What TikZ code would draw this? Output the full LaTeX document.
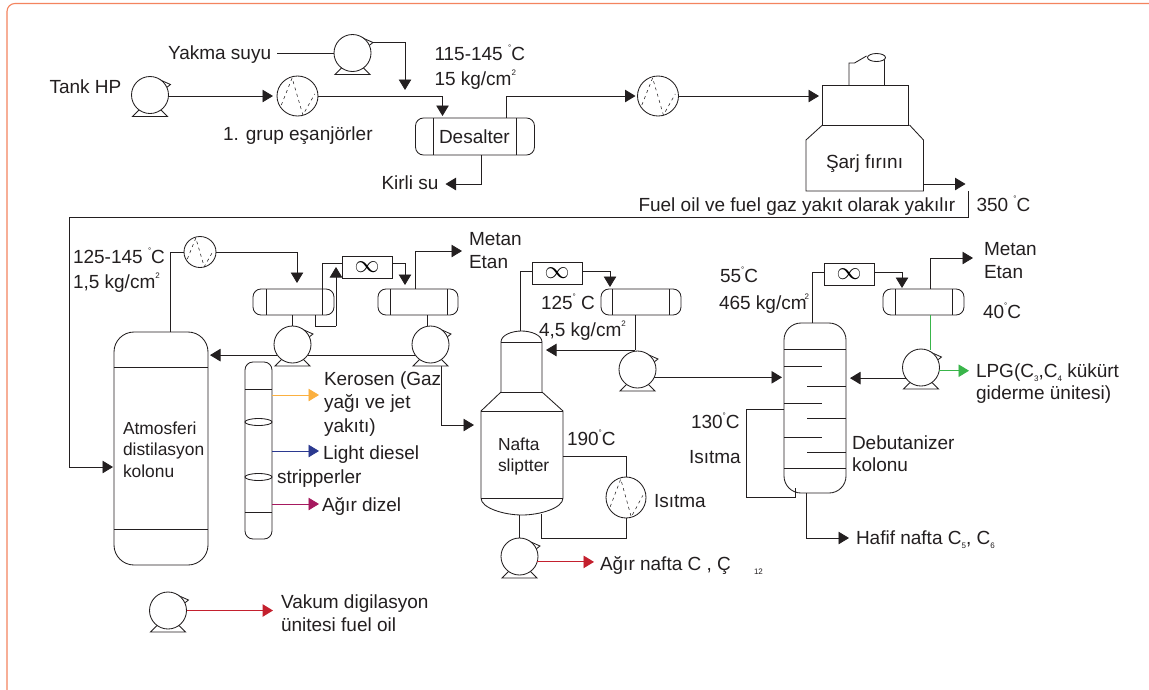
\documentclass[tikz,border=0pt]{standalone}
\usepackage{fontspec}
\setmainfont{Liberation Sans}
\usetikzlibrary{arrows.meta,shapes.geometric}
\definecolor{ln}{HTML}{231F20}
\definecolor{fr}{HTML}{F4845F}
\definecolor{cor}{HTML}{FBB040}
\definecolor{cbl}{HTML}{2B3990}
\definecolor{cmg}{HTML}{A6195F}
\definecolor{crd}{HTML}{C4202E}
\definecolor{cgr}{HTML}{39B54A}
\newcommand{\dgr}{\raisebox{0.5em}{\fontsize{8}{8}\selectfont °}}
\newcommand{\supp}[1]{\raisebox{0.5em}{\fontsize{8}{8}\selectfont #1}}
\newcommand{\subb}[1]{\raisebox{-0.25em}{\fontsize{8}{8}\selectfont #1}}
\tikzset{
  line/.style={draw=ln,line width=0.85pt},
  flow/.style={line,-{Triangle[length=10.5pt,width=12.5pt]}},
  lab/.style={anchor=base west,inner sep=0pt,outer sep=0pt,text=ln,font=\fontsize{17.4}{20}\selectfont},
  labb/.style={lab,font=\fontsize{19}{22}\selectfont},
  round/.style={ellipse,draw=ln,line width=0.85pt,fill=white,inner sep=0pt,outer sep=0pt},
  vessel/.style={rectangle,draw=ln,line width=0.85pt,inner sep=0pt,outer sep=0pt},
  cooler/.style={rectangle,draw=ln,line width=0.85pt,inner sep=0pt,outer sep=0pt,minimum width=50pt,minimum height=22pt,font=\fontsize{25}{25}\selectfont}
}
% \pump{name}{x}{y}{width}
\newcommand{\pump}[4]{%
  \draw[line,fill=white] (#2-10,#3+14) -- (#2-17.5,#3+21.5) -- (#2+17.5,#3+21.5) -- (#2+10,#3+14);
  \draw[line,fill=white] (#2+8,#3-16) -- (#2+20.5,#3-10.5) -- (#2+16,#3-7);
  \node[round,minimum width=#4pt,minimum height=37pt] (#1) at (#2,#3) {};
  \coordinate (#1-tip) at (#2+20,#3-10.5);
}
% \hex{name}{x}{y}{w}{h}
\newcommand{\hex}[5]{%
  \node[round,minimum width=#4pt,minimum height=#5pt] (#1) at (#2,#3) {};
  \begin{scope}[shift={(#2,#3)},xscale=#4/38,yscale=#5/40]
    \draw[draw=ln,line width=0.55pt,dash pattern=on 3pt off 3.5pt] (-15,9) -- (-5,-18) -- (5,19) -- (16,-2);
  \end{scope}
}
\begin{document}
\begin{tikzpicture}[x=1pt,y=-1pt]
\useasboundingbox (0,0) rectangle (1149,689);
\fill[white] (0,0) rectangle (1149,689);
\draw[draw=fr,line width=1.1pt,rounded corners=8pt] (1175,3.5) -- (7,3.5) -- (7,700) -- (40,700);

% ---- top row equipment
\pump{hp}{150}{95}{37}
\pump{yp}{352.5}{53}{37}
\hex{exa}{297.5}{96}{41}{40}
\hex{exb}{658}{96}{41}{40}
\node[vessel,rounded corners=8pt,minimum width=119pt,minimum height=37pt] (des) at (475,136.5) {};
\draw[line] (433.5,118) -- (433.5,155) (516,118) -- (516,155);
\node[labb] (tdes) at (439,143) {Desalter};
% furnace
\node[vessel,minimum width=86pt,minimum height=40pt] (fbox) at (865,105) {};
\draw[line] (849,85) -- (849,63) -- (854.5,63) -- (866.5,56);
\draw[line] (884,85) -- (884,60);
\draw[line,fill=white] (876.5,57.5) ellipse (9 and 4);
\draw[line] (822.5,125) -- (806,140) -- (806,191) -- (923.5,191) -- (923.5,140) -- (909.5,125);
\node[labb] (tsarj) at (826,168) {Şarj fırını};

% named ports
\coordinate (wjoin) at (405,90);
\coordinate (desin) at (442.5,116);
\coordinate (desout) at (506,118);
\coordinate (desbot) at (481,155);
\coordinate (kirli) at (445.5,184);
\coordinate (fin) at (819,96);
\coordinate (fout) at (923.5,184);
\coordinate (fend) at (965.5,184);
\coordinate (ret) at (968.5,191);
\coordinate (retb) at (968.5,217);
\coordinate (retl) at (69,217);
\coordinate (atmin) at (113,467);
\coordinate (yline) at (277,53);

\draw[line] (yline) -- (yp.west);
\draw[flow] (yp-tip) -| (wjoin);
\draw[flow,shorten >=4pt] (hp.east |- exa.west) -- (exa.west);
\draw[flow] (exa.east) -| (desin);
\draw[flow,shorten >=2pt] (desout) |- (exb.west);
\draw[flow] (exb.east) -- (fin);
\draw[flow] (desbot) |- (kirli);
\draw[flow] (fout) -- (fend);
\draw[line] (ret) -- (retb) -- (retl);
\draw[flow] (retl) |- (atmin);

% ---- atmospheric column
\node[vessel,rounded corners=20pt,minimum width=94pt,minimum height=233pt] (atm) at (161,448.5) {};
\draw[line] (114,367) -- (208,367) (114,529) -- (208,529);
\node[lab] at (123,434) {Atmosferi};
\node[lab] at (123,455) {distilasyon};
\node[lab] at (123,477) {kolonu};
\hex{exc}{200}{252}{32}{31}
\coordinate (atmtop) at (170,332);
\coordinate (dain) at (297,283);
\draw[line] (atmtop) |- (exc.west);
\draw[flow] (exc.east) -| (dain);

% drums
\node[vessel,rounded corners=8pt,minimum width=81pt,minimum height=26pt] (da) at (293.5,302) {};
\draw[line] (266,289) -- (266,315);
\node[vessel,rounded corners=8pt,minimum width=80pt,minimum height=26pt] (db) at (418,302) {};
\draw[line] (390,289) -- (390,315) (447,289) -- (447,315);
\node[cooler] (ca) at (367,267) {$\infty$};
\coordinate (dalo) at (322,315);
\coordinate (daup) at (315,315);
\coordinate (dalt) at (315,326);
\coordinate (darr) at (336,326);
\coordinate (dartip) at (336,267);
\coordinate (caleft) at (342,263);
\coordinate (caright) at (392,263);
\coordinate (dbin) at (405,285);
\coordinate (dbtop) at (415,289);
\coordinate (metana) at (462,251);
\draw[line] (dalo) |- (caleft);
\draw[flow] (caright) -| (dbin);
\draw[line] (daup) -- (dalt) -- (darr);
\draw[flow] (darr) -- (dartip);
\draw[flow] (dbtop) |- (metana);
\node[labb] at (469,245) {Metan};
\node[labb] at (469,268) {Etan};

\coordinate (kna) at (441,366);
\coordinate (nafin) at (474,425);
\draw[flow] (kna) |- (nafin);
\pump{pa}{292.5}{344.5}{37}
\pump{pb}{430.5}{344.5}{37}
\coordinate (atmret) at (210,355);
\draw[line] (da.south -| pa.north) -- (pa.north);
\draw[line] (427,315) -- (pb.north -| 427,0);
\draw[line] (pb.215) -- (pa.-35);
\draw[flow] (pa.215) -- (pa.215 -| atmret);

% ---- stripper
\node[vessel,rounded corners=8pt,minimum width=27pt,minimum height=177pt] (st) at (258.5,450.5) {};
\draw[line] (245,389) -- (272,389) (245,512) -- (272,512);
\draw[line] (258.5,422) ellipse (13.5 and 3.5);
\draw[line] (258.5,477) ellipse (13.5 and 3.5);
\coordinate (sa) at (272,395);\coordinate (sae) at (319,395);
\coordinate (sb) at (272,451);\coordinate (sbe) at (319,451);
\coordinate (sc) at (272,504);\coordinate (sce) at (319,504);
\draw[flow,draw=cor,color=cor] (sa) -- (sae);
\draw[flow,draw=cbl,color=cbl] (sb) -- (sbe);
\draw[flow,draw=cmg,color=cmg] (sc) -- (sce);
\node[labb] at (324,385) {Kerosen (Gaz};
\node[labb] at (324,408) {yağı ve jet};
\node[labb] at (324,432) {yakıtı)};
\node[labb] at (323,459) {Light diesel};
\node[labb] at (277,483) {stripperler};
\node[labb] at (322,511) {Ağır dizel};

% ---- vacuum pump
\pump{pv}{168}{610.5}{37}
\coordinate (pve) at (273,611);
\draw[flow,draw=crd,color=crd,line width=1.2pt] (pv.east) -- (pv.east -| pve);
\node[labb] at (281,608) {Vakum digilasyon};
\node[labb] at (281,631) {ünitesi fuel oil};

% ---- naphtha splitter
\draw[line] (501,342) .. controls (501,335) and (512,331) .. (521.5,331) .. controls (531,331) and (542,335) .. (542,342) -- (542,392) -- (563,411) -- (563,498) .. controls (563,508) and (540,515) .. (522,515) .. controls (504,515) and (481,508) .. (481,498) -- (481,411) -- (501,392) -- cycle;
\draw[line] (501,342) -- (542,342) (501,392) -- (542,392) (481,411) -- (563,411) (481,498) -- (563,498);
\node[lab] at (498,450) {Nafta};
\node[lab] at (498,471) {sliptter};
\node[cooler] (cb) at (557,273) {$\infty$};
\coordinate (naftop) at (520,331);
\coordinate (cbl) at (532,271);
\coordinate (cbr) at (582,271);
\coordinate (dcin) at (610,287);
\draw[line] (naftop) |- (cbl);
\draw[flow] (cbr) -| (dcin);
\node[vessel,rounded corners=8pt,minimum width=80pt,minimum height=26pt] (dc) at (641,302) {};
\draw[line] (612,289) -- (612,315) (669,289) -- (669,315);
\pump{pc}{637.5}{369.5}{37}
\coordinate (dcb) at (635,315);
\coordinate (dcj) at (635,350);
\coordinate (nafret) at (546,350);
\coordinate (pce) at (782,378);
\draw[line] (dcb) -- (dcj);
\draw[flow] (dcj) -- (nafret);
\draw[flow] (pc.-25) -- (pc.-25 -| pce);
\hex{exd}{626}{497.5}{40}{41}
\coordinate (nafr) at (563,456);
\coordinate (nafb) at (541,514);
\coordinate (nafbb) at (541,538);
\draw[line] (nafr) -| (exd.north);
\draw[line] (exd.south) |- (nafbb) -- (nafb);
\node[labb] at (567,445) {190\dgr C};
\node[labb] at (654,507) {Isıtma};
\pump{pd}{519.5}{556.5}{37}
\coordinate (nafbot) at (519.5,515);
\coordinate (pde) at (594,562);
\draw[line] (nafbot) -- (pd.north);
\draw[flow,draw=crd,color=crd] (pd.-17) -- (pd.-17 -| pde);
\node[labb] at (600,570) {Ağır nafta C , Ç};
\node[lab,font=\fontsize{8}{8}\selectfont] at (754,574) {12};

% ---- debutanizer
\node[vessel,rounded corners=17pt,minimum width=62pt,minimum height=170pt] (deb) at (815,408) {};
\draw[line] (784,349) -- (846,349) (784,468) -- (846,468);
\draw[line] (784,366) -- (822,366) (784,403) -- (822,403) (784,437) -- (822,437);
\draw[line] (807,386) -- (846,386) (807,418) -- (846,418) (807,452) -- (846,452);
\node[labb] at (852,449) {Debutanizer};
\node[labb] at (852,471) {kolonu};
\node[cooler] (cc) at (849,274) {$\infty$};
\coordinate (debtop) at (812,323);
\coordinate (ccl) at (824,272);
\coordinate (ccr) at (874,272);
\coordinate (ddin) at (902,288);
\draw[line] (debtop) |- (ccl);
\draw[flow] (ccr) -| (ddin);
\node[vessel,rounded corners=8pt,minimum width=81pt,minimum height=26pt] (dd) at (923.5,302) {};
\draw[line] (895,289) -- (895,315) (952,289) -- (952,315);
\coordinate (ddtop) at (930,289);
\coordinate (metanb) at (973,258);
\draw[flow] (ddtop) |- (metanb);
\node[labb] at (984,255) {Metan};
\node[labb] at (984,278) {Etan};
\node[labb] at (983,318) {40\dgr C};
\pump{pe}{921}{367.5}{37}
\coordinate (ddb) at (930,315);
\coordinate (ddp) at (930,350);
\draw[draw=cgr,line width=0.85pt] (ddb) -- (ddp);
\coordinate (debr) at (850,378);
\coordinate (lpg) at (969,371);
\draw[flow] (pe.215) -- (pe.215 -| debr);
\draw[flow,draw=cgr,color=cgr] (pe.-10) -- (pe.-10 -| lpg);
\node[labb] at (976,377) {LPG(C\subb{3},C\subb{4} kükürt};
\node[labb] at (976,399) {giderme ünitesi)};
\coordinate (rba) at (784,409);
\coordinate (rbb) at (746,497);
\coordinate (rbc) at (795,488);
\draw[line] (rba) -| (rbb) -| (rbc);
\node[labb] at (691,428) {130\dgr C};
\node[labb] at (689,463) {Isıtma};
\coordinate (debb) at (806,493);
\coordinate (hafif) at (849,538);
\draw[flow] (debb) |- (hafif);
\node[labb] at (856,544) {Hafif nafta C\subb{5}, C\subb{6}};

% ---- free labels
\node[labb] at (49.5,93) {Tank HP};
\node[labb] at (168,59) {Yakma suyu};
\node[labb] at (434.5,60) {115-145 \dgr C};
\node[labb] at (434.5,85) {15 kg/cm\supp{2}};
\node[labb] at (223,140) {1. grup eşanjörler};
\node[labb] at (381.5,189) {Kirli su};
\node[labb] at (638.5,211) {Fuel oil ve fuel gaz yakıt olarak yakılır};
\node[labb] at (976.5,211) {350 \dgr C};
\node[labb] at (73,263) {125-145 \dgr C};
\node[labb] at (73,288) {1,5 kg/cm\supp{2}};
\node[labb] at (541,309) {125\dgr\ C};
\node[labb] at (539,336) {4,5 kg/cm\supp{2}};
\node[labb] at (720,282) {55\dgr C};
\node[labb] at (719,309) {465 kg/cm\kern-2pt\supp{2}};
\end{tikzpicture}
\end{document}
